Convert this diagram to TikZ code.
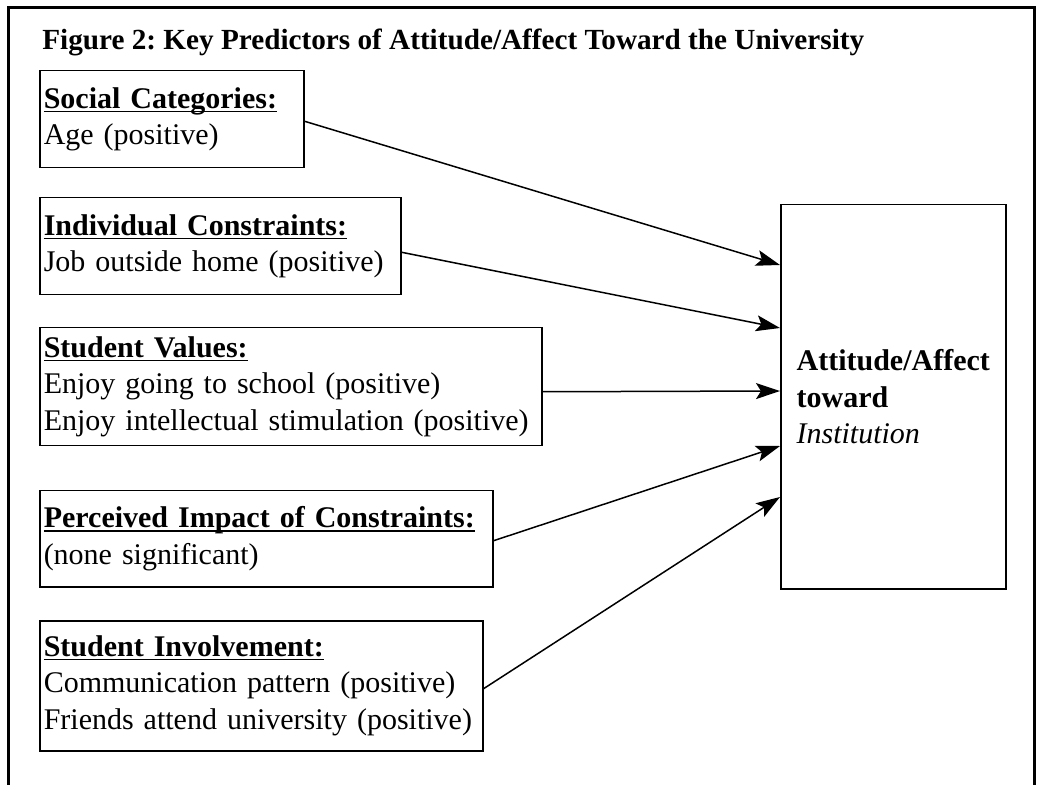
\documentclass[tikz,border=0pt]{standalone}
\usepackage{fontspec}
\setmainfont{Liberation Serif}
\usetikzlibrary{arrows.meta,calc}
\newcommand{\predhead}[1]{\setbox0\hbox{\textbf{#1}}\rlap{\textbf{#1}}\rule[-2pt]{\wd0}{0.7pt}}
\frenchspacing

\begin{document}
\begin{tikzpicture}[x=0.5pt,y=-0.5pt,
    predbox/.style={draw,line width=0.75pt,anchor=north west,align=left,
      inner xsep=2pt,inner ysep=0pt,font=\fontsize{15}{18.3}\selectfont},
    predarrow/.style={-{Stealth[length=12pt,width=8pt,inset=2.5pt]},line width=0.75pt}]
    \clip (0,0) rectangle (1038,785);
    \draw[line width=1.5pt] (8,8) rectangle (1034,830);
    \node[anchor=base west,inner sep=0pt,font=\fontsize{14.6}{17}\selectfont\bfseries] (title) at (42,50)
      {Figure 2: Key Predictors of Attitude/Affect Toward the University};
    % predictor boxes
    \node[predbox,text width=128pt,minimum height=48.5pt] (soc) at (39,70)
      {\predhead{Social Categories:}\\Age (positive)};
    \node[predbox,text width=176.5pt,minimum height=48.5pt] (ind) at (39,197)
      {\predhead{Individual Constraints:}\\Job outside home (positive)};
    \node[predbox,text width=247pt,minimum height=59pt] (val) at (39,327)
      {\predhead{Student Values:}\\Enjoy going to school (positive)\\Enjoy intellectual stimulation (positive)};
    \node[predbox,text width=222.5pt,minimum height=48pt] (imp) at (39,490)
      {\predhead{Perceived Impact of Constraints:}\\(none significant)};
    \node[predbox,text width=217.5pt,minimum height=65pt] (inv) at (39,620)
      {\predhead{Student Involvement:}\\Communication pattern (positive)\\Friends attend university (positive)};
    % outcome box
    \node[predbox,minimum width=112.5pt,minimum height=192pt] (att) at (780,204)
      {\textbf{Attitude/Affect}\\\textbf{toward}\\\textit{Institution}};
    % arrows
    \draw[predarrow] ($(soc.east)+(0,2)$) -- ($(att.north west)+(0,61)$);
    \draw[predarrow] ($(ind.east)+(0,6)$) -- ($(att.north west)+(0,124)$);
    \draw[predarrow] ($(val.east)+(0,5)$) -- ($(att.north west)+(0,187)$);
    \draw[predarrow] ($(imp.east)+(0,2)$) -- ($(att.north west)+(0,242)$);
    \draw[predarrow] ($(inv.east)+(0,3)$) -- ($(att.north west)+(0,293)$);
\end{tikzpicture}
\end{document}
